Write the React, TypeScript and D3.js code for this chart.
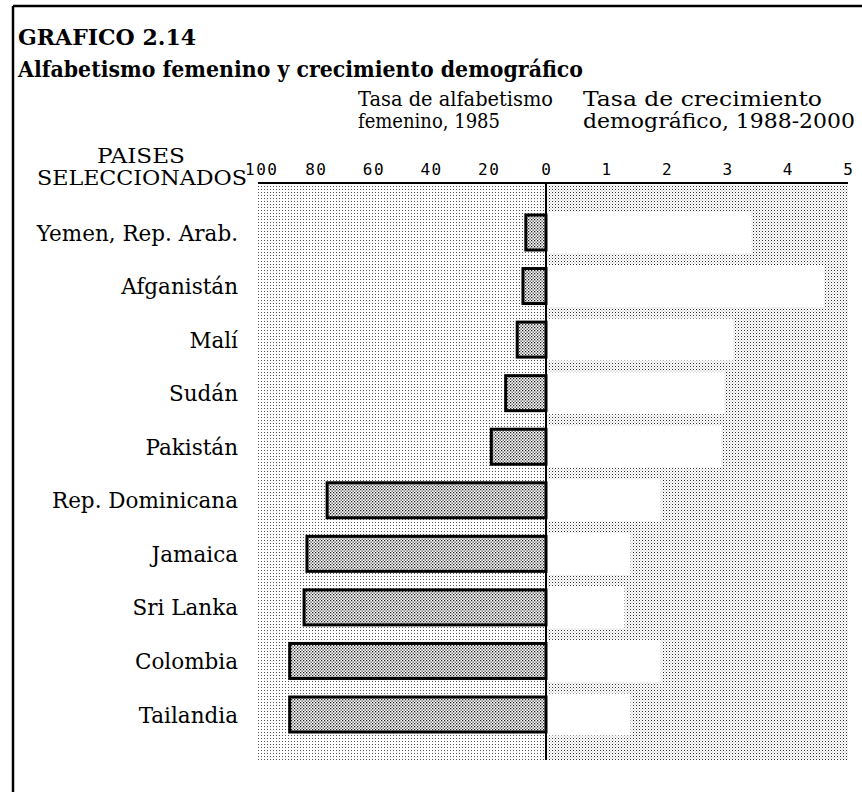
import React from "react";
import * as d3 from "d3";

const countries = [
  "Yemen, Rep. Arab.",
  "Afganistán",
  "Malí",
  "Sudán",
  "Pakistán",
  "Rep. Dominicana",
  "Jamaica",
  "Sri Lanka",
  "Colombia",
  "Tailandia",
];
const literacy = [7, 8, 10, 14, 19, 76, 83, 84, 89, 89];
const growth = [3.4, 4.6, 3.1, 2.95, 2.9, 1.9, 1.4, 1.3, 1.9, 1.4];
const leftTicks = [100, 80, 60, 40, 20, 0];
const rightTicks = [1, 2, 3, 4, 5];

const W = 862;
const H = 792;

export default function App() {
  const x0 = 546;
  const xL = d3.scaleLinear().domain([0, 100]).range([x0, 258]);
  const xR = d3.scaleLinear().domain([0, 5]).range([x0, 848]);
  const y = d3.scalePoint<string>().domain(countries).range([232.5, 714.5]);
  const barH = 35;
  const serif = "'DejaVu Serif', serif";
  const mono = "'DejaVu Sans Mono', monospace";

  return (
    <svg
      width={W}
      height={H}
      style={{ position: "absolute", left: 0, top: 0, background: "#fff" }}
    >
      <defs>
        <pattern id="bgDots" width="3" height="3" patternUnits="userSpaceOnUse">
          <rect width="3" height="3" fill="#fff" />
          <rect x="0" y="0" width="1" height="1" fill="#555" />
        </pattern>
        <pattern id="bgDotsR" width="3" height="3" patternUnits="userSpaceOnUse">
          <rect width="3" height="3" fill="#fff" />
          <rect x="0" y="0" width="1" height="1" fill="#333" />
          <rect x="1.5" y="1.5" width="1" height="1" fill="#aaa" />
        </pattern>
        <pattern id="barDots" width="3" height="3" patternUnits="userSpaceOnUse">
          <rect width="3" height="3" fill="#fff" />
          <rect x="0" y="0" width="1.3" height="1.3" fill="#222" />
          <rect x="1.5" y="1.5" width="1.3" height="1.3" fill="#444" />
        </pattern>
      </defs>

      {/* frame */}
      <line x1={13} y1={6} x2={W} y2={6} stroke="#000" strokeWidth={2.5} />
      <line x1={13} y1={6} x2={13} y2={H} stroke="#000" strokeWidth={2.5} />

      {/* titles */}
      <text x={18} y={45} fontFamily={serif} fontWeight="bold" fontSize={22} textLength={178} lengthAdjust="spacingAndGlyphs">
        GRAFICO 2.14
      </text>
      <text x={18} y={77} fontFamily={serif} fontWeight="bold" fontSize={22} textLength={565} lengthAdjust="spacingAndGlyphs">
        Alfabetismo femenino y crecimiento demográfico
      </text>

      <text x={358} y={106} fontFamily={serif} fontSize={19.5} textLength={195} lengthAdjust="spacingAndGlyphs">
        Tasa de alfabetismo
      </text>
      <text x={358} y={128} fontFamily={serif} fontSize={19.5} textLength={142} lengthAdjust="spacingAndGlyphs">
        femenino, 1985
      </text>
      <text x={583} y={106} fontFamily={serif} fontSize={19.5} textLength={239} lengthAdjust="spacingAndGlyphs">
        Tasa de crecimiento
      </text>
      <text x={583} y={128} fontFamily={serif} fontSize={19.5} textLength={272} lengthAdjust="spacingAndGlyphs">
        demográfico, 1988-2000
      </text>

      <text x={141} y={163} textAnchor="middle" fontFamily={serif} fontSize={19.5} textLength={88} lengthAdjust="spacingAndGlyphs">
        PAISES
      </text>
      <text x={142} y={185} textAnchor="middle" fontFamily={serif} fontSize={19.5} textLength={210} lengthAdjust="spacingAndGlyphs">
        SELECCIONADOS
      </text>

      {/* stippled background */}
      <rect x={xL(100)} y={185} width={x0 - xL(100)} height={575} fill="url(#bgDots)" />
      <rect x={x0} y={185} width={xR(5) - x0} height={575} fill="url(#bgDotsR)" />

      {/* axis line */}
      <line x1={xL(100)} y1={183} x2={xR(5)} y2={183} stroke="#000" strokeWidth={2} />

      {leftTicks.map((t) => (
        <text key={"l" + t} x={xL(t) + (t === 100 ? 3 : 0) + 0.75} y={175} textAnchor="middle" fontFamily={mono} fontSize={16} letterSpacing={1.5}>
          {t}
        </text>
      ))}
      {rightTicks.map((t) => (
        <text key={"r" + t} x={xR(t)} y={175} textAnchor="middle" fontFamily={mono} fontSize={16}>
          {t}
        </text>
      ))}

      {/* right bars (white) */}
      {countries.map((c, i) => (
        <rect
          key={"g" + c}
          x={x0}
          y={(y(c) as number) - 21}
          width={xR(growth[i]) - x0}
          height={42}
          fill="#fff"
        />
      ))}

      {/* left bars */}
      {countries.map((c, i) => (
        <rect
          key={"b" + c}
          x={xL(literacy[i])}
          y={(y(c) as number) - barH / 2}
          width={x0 - xL(literacy[i])}
          height={barH}
          fill="url(#barDots)"
          stroke="#000"
          strokeWidth={3}
        />
      ))}

      {/* zero line */}
      <line x1={x0} y1={183} x2={x0} y2={760} stroke="#000" strokeWidth={2} />

      {/* country labels */}
      {countries.map((c) => (
        <text
          key={"t" + c}
          x={238}
          y={(y(c) as number) + 8}
          textAnchor="end"
          fontFamily={serif}
          fontSize={21.5}
        >
          {c}
        </text>
      ))}
    </svg>
  );
}
